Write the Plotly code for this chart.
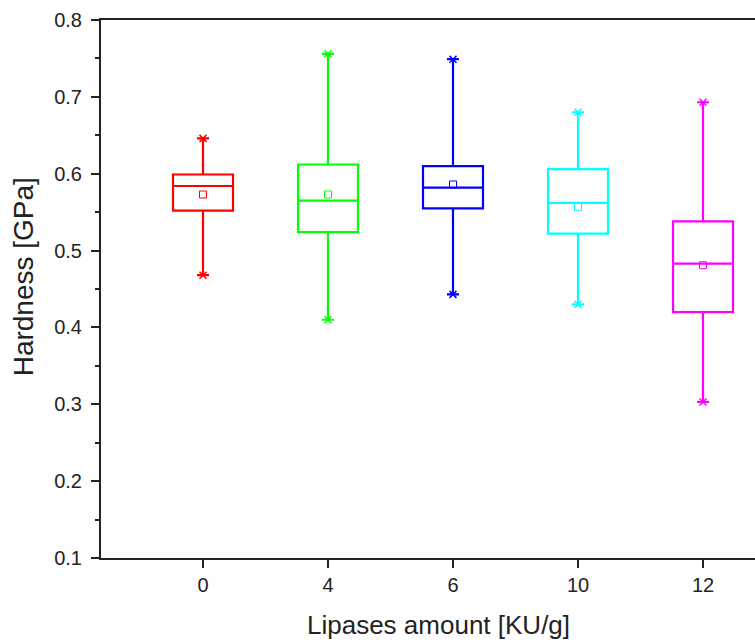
import plotly.graph_objects as go

categories = ["0", "4", "6", "10", "12"]
colors = ["#FF0000", "#00FF00", "#0000FF", "#00FFFF", "#FF00FF"]
q_min = [0.468, 0.410, 0.443, 0.430, 0.303]
q1 = [0.552, 0.524, 0.555, 0.522, 0.420]
median = [0.584, 0.565, 0.582, 0.562, 0.483]
q3 = [0.599, 0.612, 0.610, 0.606, 0.538]
q_max = [0.646, 0.756, 0.749, 0.680, 0.693]
mean = [0.573, 0.573, 0.586, 0.557, 0.481]

fig = go.Figure()
for i, c in enumerate(categories):
    fig.add_trace(go.Box(
        x=[c], q1=[q1[i]], median=[median[i]], q3=[q3[i]],
        lowerfence=[q_min[i]], upperfence=[q_max[i]],
        width=0.48, whiskerwidth=0.2,
        line=dict(color=colors[i], width=2.2),
        fillcolor="rgba(255,255,255,0)",
        boxpoints=False, showlegend=False, hoverinfo="skip",
    ))
    fig.add_trace(go.Scatter(
        x=[c], y=[mean[i]], mode="markers",
        marker=dict(symbol="square-open", size=7, color=colors[i], line=dict(width=1)),
        showlegend=False, hoverinfo="skip",
    ))
    fig.add_trace(go.Scatter(
        x=[c, c], y=[q_min[i], q_max[i]], mode="markers",
        marker=dict(symbol="x-thin-open", size=7, color=colors[i], line=dict(width=1.5, color=colors[i])),
        showlegend=False, hoverinfo="skip",
    ))

font_family = "Liberation Sans, Arial, sans-serif"
fig.update_layout(
    width=755, height=643,
    margin=dict(l=101, r=0, t=20, b=85),
    paper_bgcolor="white", plot_bgcolor="white",
    boxmode="overlay",
    font=dict(family=font_family, color="#222222"),
    xaxis=dict(
        type="category", categoryorder="array", categoryarray=categories,
        range=[-0.816, 4.416], automargin=False,
        showline=True, linecolor="#222222", linewidth=2, mirror=True,
        ticks="outside", ticklen=8, tickwidth=2, tickcolor="#222222",
        tickfont=dict(size=20, family=font_family, color="#222222"),
        showgrid=False, zeroline=False,
    ),
    yaxis=dict(
        range=[0.1, 0.8], dtick=0.1, tickformat=".1f", automargin=False,
        showline=True, linecolor="#222222", linewidth=2,
        ticks="outside", ticklen=8, tickwidth=2, tickcolor="#222222",
        minor=dict(dtick=0.05, ticks="outside", ticklen=4, tickwidth=2, tickcolor="#222222"),
        tickfont=dict(size=20, family=font_family, color="#222222"),
        ticklabelstandoff=5,
        showgrid=False, zeroline=False,
    ),
    annotations=[
        dict(
            text="Lipases amount [KU/g]", xref="paper", yref="paper",
            x=0.5153, y=-0.1245, xanchor="center", yanchor="middle", showarrow=False,
            font=dict(size=26, family=font_family, color="#222222"),
        ),
        dict(
            text="Hardness [GPa]", xref="paper", yref="paper", textangle=-90,
            x=-0.119, y=0.522, xanchor="center", yanchor="middle", showarrow=False,
            font=dict(size=28, family=font_family, color="#222222"),
        ),
    ],
)

fig.write_html(
    "out.html",
    config={"displayModeBar": False},
    post_script="document.body.style.margin='0';document.body.style.overflow='hidden';",
)
